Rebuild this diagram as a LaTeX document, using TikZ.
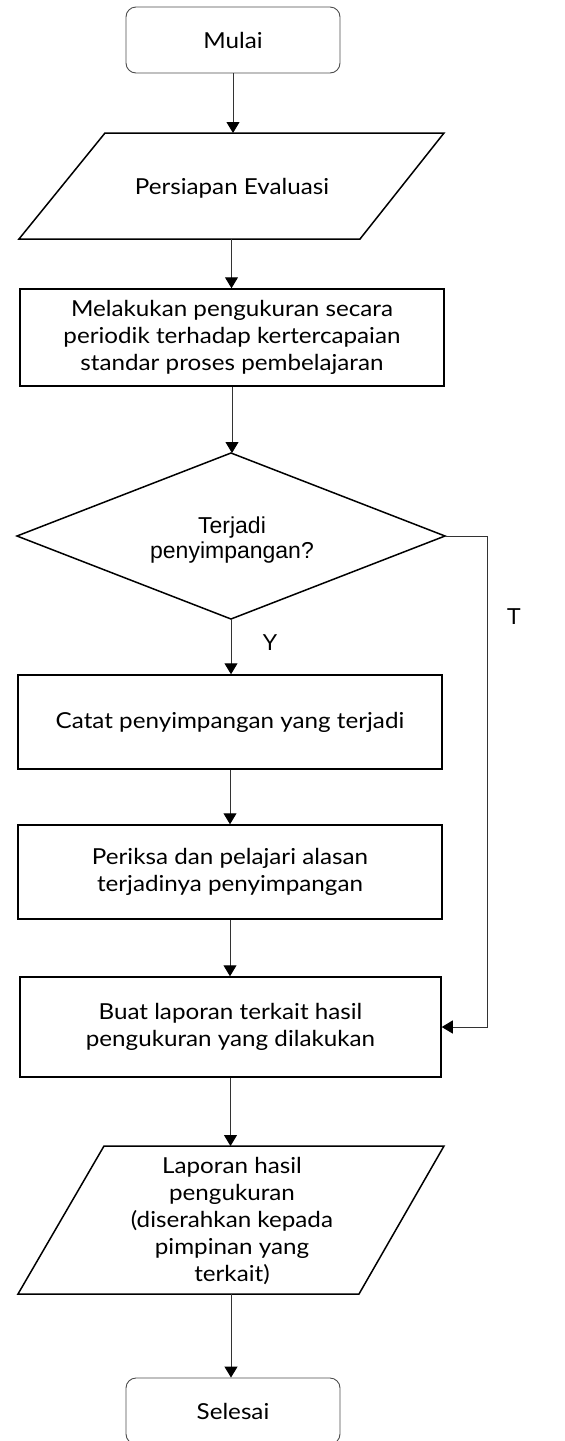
\documentclass[tikz,border=0pt]{standalone}
\usepackage{fontspec}
\setmainfont{Lato}[FakeStretch=1.1]
\newfontfamily\arialfont{Liberation Sans}
\usetikzlibrary{arrows.meta}

\begin{document}
\begin{tikzpicture}[x=1pt,y=-1pt,
  txt/.style={font=\fontsize{22}{27}\selectfont, align=center, inner sep=0pt},
  term/.style={txt, draw=black!70, line width=0.9pt, rounded corners=10pt,
    minimum width=214pt, minimum height=66pt},
  proc/.style={txt, draw=black, line width=1.5pt, minimum width=424pt},
  frame/.style={inner sep=0pt, outer sep=0pt},
  outline/.style={draw=black, line width=1.5pt},
  link/.style={draw=black!80, line width=1pt,
    -{Triangle[width=13pt,length=11pt,color=black,fill=black]}},
  lbl/.style={font=\arialfont\fontsize{23}{25}\selectfont, inner sep=0pt}
]
\useasboundingbox (0,0) rectangle (565,1441);
\clip (0,0) rectangle (565,1441);

% start / end terminals
\node[term] (start) at (233,40) {Mulai};
\node[term] (stop) at (233,1411) {Selesai};

% input: preparation
\node[frame, minimum width=425pt, minimum height=106pt] (prep) at (231.5,186) {};
\draw[outline] ([xshift=86pt]prep.north west) -- (prep.north east)
  -- ([xshift=-84pt]prep.south east) -- (prep.south west) -- cycle;
\node[txt] (preptxt) at (232,188) {Persiapan Evaluasi};

% measurement step
\node[proc, minimum height=97pt] (measure) at (232,337.5)
  {Melakukan pengukuran secara\\periodik terhadap kertercapaian\\standar proses pembelajaran};

% decision
\node[frame, minimum width=428pt, minimum height=166pt] (dec) at (231,536) {};
\draw[outline] (dec.north) -- (dec.east) -- (dec.south) -- (dec.west) -- cycle;
\node[lbl, align=center] (dectxt) at (232,540) {Terjadi\\penyimpangan?};

% deviation handling
\node[proc, minimum height=94pt] (record) at (230,722) {Catat penyimpangan yang terjadi};
\node[proc, minimum height=94pt] (check) at (230,872)
  {Periksa dan pelajari alasan\\terjadinya penyimpangan};
\node[proc, minimum width=421pt, minimum height=100pt] (report) at (230.5,1027)
  {Buat laporan terkait hasil\\pengukuran yang dilakukan};

% output: report
\node[frame, minimum width=426pt, minimum height=148pt] (out) at (231,1220) {};
\draw[outline] ([xshift=86pt]out.north west) -- (out.north east)
  -- ([xshift=-85pt]out.south east) -- (out.south west) -- cycle;
\node[txt] (outtxt) at (232,1221)
  {Laporan hasil\\pengukuran\\(diserahkan kepada\\pimpinan yang\\terkait)};

% connectors
\draw[link] (start.south) -- (start.south |- prep.north);
\draw[link] (prep.south) -- (prep.south |- measure.north);
\draw[link] (measure.south) -- (measure.south |- dec.north);
\draw[link] (dec.south) -- (dec.south |- record.north);
\draw[link] (record.south) -- (record.south |- check.north);
\draw[link] (check.south) -- (check.south |- report.north);
\draw[link] (report.south) -- (report.south |- out.north);
\draw[link] (out.south) -- (out.south |- stop.north);

\coordinate (bend) at (487,536);
\draw[link] (dec.east) -- (bend) -- (bend |- report.east) -- (report.east);

% branch labels
\node[lbl] (yes) at (270,643) {Y};
\node[lbl] (no) at (514,617) {T};
\end{tikzpicture}
\end{document}
